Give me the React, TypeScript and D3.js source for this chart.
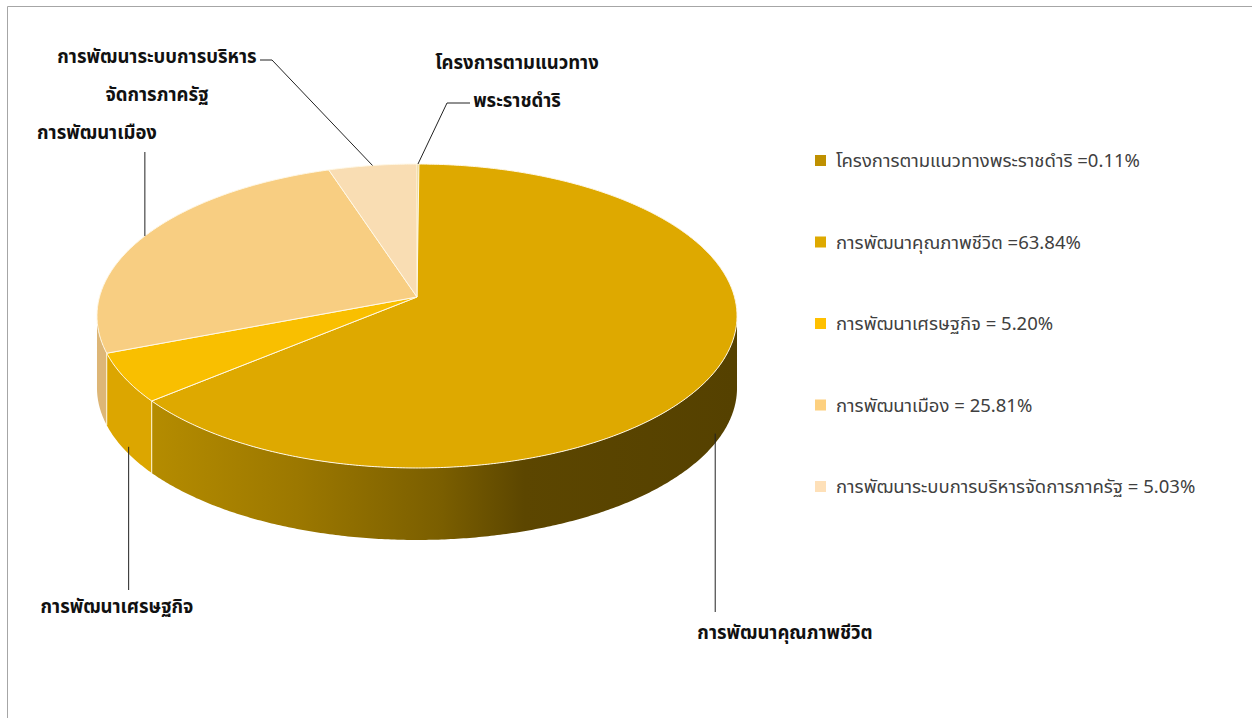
import React from 'react';
import * as d3 from 'd3';

const categories = [
  'โครงการตามแนวทางพระราชดำริ',
  'การพัฒนาคุณภาพชีวิต',
  'การพัฒนาเศรษฐกิจ',
  'การพัฒนาเมือง',
  'การพัฒนาระบบการบริหารจัดการภาครัฐ',
];
const values = [0.11, 63.84, 5.2, 25.81, 5.03];
const legendLabels = [
  'โครงการตามแนวทางพระราชดำริ =0.11%',
  'การพัฒนาคุณภาพชีวิต =63.84%',
  'การพัฒนาเศรษฐกิจ = 5.20%',
  'การพัฒนาเมือง  = 25.81%',
  'การพัฒนาระบบการบริหารจัดการภาครัฐ = 5.03%',
];
const dataLabels = [
  ['โครงการตามแนวทาง', 'พระราชดำริ'],
  ['การพัฒนาคุณภาพชีวิต'],
  ['การพัฒนาเศรษฐกิจ'],
  ['การพัฒนาเมือง'],
  ['การพัฒนาระบบการบริหาร', 'จัดการภาครัฐ'],
];
const topColors = ['#BF9000', '#DEA900', '#F9BF00', '#F8CE82', '#F9DDB3'];
const sideColors = ['#8C6A00', 'url(#goldSide)', '#DCA600', '#DDB676', '#E0C59A'];
const legendColors = ['#BF9000', '#DEA900', '#FFC000', '#FDD07F', '#FEE0B8'];

// layout
const W = 1252;
const H = 718;
const CX = 417;
const CY = 297;
const RX = 317.5;
const RY = 149.6;
const K = 0.125;
const DEPTH = 72;

// label layout: [textCenterX, firstBaselineY, lineGap], and leader elbow points
const labelLayout = [
  { x: 517, y: 69, gap: 38, path: (a: [number, number]) => [a, [447, 103], [470, 103]] },
  { x: 785, y: 639, gap: 0, path: (a: [number, number]) => [[a[0] - 5, a[1] + DEPTH - 3], [a[0] - 5, 612]] },
  { x: 117, y: 613, gap: 0, path: (a: [number, number]) => [[a[0] + 4, a[1] + DEPTH - 3], [a[0] + 4, 590]] },
  { x: 97, y: 139, gap: 0, path: (a: [number, number]) => [a, [a[0], 152]] },
  { x: 157, y: 63, gap: 38, path: (a: [number, number]) => [a, [272, 60], [260, 60]] },
];

function project(theta: number, dy = 0): [number, number] {
  const u = Math.sin(theta);
  const v = Math.cos(theta);
  const s = 1 / (1 + K * v);
  return [CX + RX * u * s, CY - RY * v * s + dy];
}

function arcPoints(a0: number, a1: number, dy = 0): [number, number][] {
  const n = Math.max(2, Math.ceil(((a1 - a0) * 180) / Math.PI) * 2);
  const pts: [number, number][] = [];
  for (let i = 0; i <= n; i++) pts.push(project(a0 + ((a1 - a0) * i) / n, dy));
  return pts;
}

export default function App() {
  const pie = d3
    .pie<number>()
    .sort(null)
    .value((d) => d)
    .startAngle(0)
    .endAngle(2 * Math.PI);
  const arcs = pie(values);
  const line = d3.line();
  const T1 = Math.acos(-K);
  const T2 = 2 * Math.PI - T1;

  const sides = arcs
    .map((a, i) => {
      const s0 = Math.max(a.startAngle, T1);
      const s1 = Math.min(a.endAngle, T2);
      if (s1 <= s0) return null;
      const top = arcPoints(s0, s1, 0);
      const bot = arcPoints(s0, s1, DEPTH).reverse();
      return { i, d: line([...top, ...bot])! + 'Z', s0, s1 };
    })
    .filter(Boolean) as { i: number; d: string; s0: number; s1: number }[];

  const legendY = d3.scalePoint<number>().domain(d3.range(categories.length)).range([161, 487]);

  return (
    <svg
      width={W}
      height={H}
      style={{ position: 'absolute', left: 0, top: 0, background: '#fff' }}
      fontFamily="Tahoma, 'Leelawadee UI', 'Noto Sans Thai', 'Noto Sans', sans-serif"
    >
      <defs>
        <linearGradient id="goldSide" gradientUnits="userSpaceOnUse" x1={150} x2={735} y1={0} y2={0}>
          <stop offset="0" stopColor="#B58C00" />
          <stop offset="0.25" stopColor="#9C7800" />
          <stop offset="0.5" stopColor="#7A5E00" />
          <stop offset="0.64" stopColor="#5C4600" />
          <stop offset="1" stopColor="#554100" />
        </linearGradient>
      </defs>
      <rect width={W} height={H} fill="#fff" />
      <path d={`M7.5,${H} L7.5,6.5 L${W},6.5`} fill="none" stroke="#A6A6A6" strokeWidth={1} />

      {sides.map((s) => (
        <path key={'s' + s.i} d={s.d} fill={sideColors[s.i]} />
      ))}
      {sides.map((s) => {
        const p0 = project(s.s0);
        return s.s0 > T1 + 0.001 ? (
          <line key={'sl' + s.i} x1={p0[0]} y1={p0[1]} x2={p0[0]} y2={p0[1] + DEPTH} stroke="#FFF6DC" strokeWidth={1} />
        ) : null;
      })}

      {arcs.map((a, i) => {
        const pts = [[CX, CY] as [number, number], ...arcPoints(a.startAngle, a.endAngle)];
        return <path key={'t' + i} d={line(pts)! + 'Z'} fill={topColors[i]} stroke="#FFF8E6" strokeWidth={1} strokeLinejoin="round" />;
      })}

      {arcs.map((a, i) => {
        const mid = (a.startAngle + a.endAngle) / 2;
        const anchor = project(mid);
        const L = labelLayout[i];
        const pts = L.path(anchor) as [number, number][];
        return (
          <g key={'l' + i}>
            <path d={line(pts)!} fill="none" stroke="#222" strokeWidth={1} />
            {dataLabels[i].map((t, j) => (
              <text key={j} x={L.x} y={L.y + j * L.gap} textAnchor="middle" fontSize={18.5} fontWeight="bold" fill="#111">
                {t}
              </text>
            ))}
          </g>
        );
      })}

      {legendLabels.map((t, i) => (
        <g key={'lg' + i} transform={`translate(815,${legendY(i)})`}>
          <rect x={0} y={-6} width={11} height={11} fill={legendColors[i]} />
          <text x={21} y={6} fontSize={18.5} fill="#404040">
            {t}
          </text>
        </g>
      ))}
    </svg>
  );
}
